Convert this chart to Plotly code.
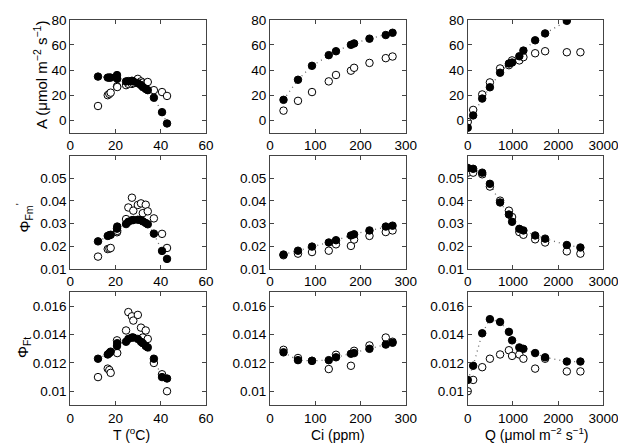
import plotly.graph_objects as go

# ---------------- data ----------------
T = [12.3, 16.6, 17.3, 17.9, 20.7, 20.8, 24.7, 25.7, 27.3, 27.9, 29.9, 31.3, 32.1, 33.4, 34.3, 37.0, 40.6, 42.8]
A_T_mod = [34.8, 34, 34, 34, 36, 33, 31, 31.2, 31.5, 31, 29.5, 28, 26.5, 25, 24, 18, 6.5, -2.5]
A_T_meas = [11.4, 20, 21, 22, 27, 26.5, 28, 29, 29, 29.7, 33, 31, 30, 29, 30.5, 24, 22.5, 19.4]
Fm_T_mod = [0.0222, 0.0246, 0.0249, 0.0251, 0.0278, 0.0287, 0.0298, 0.0308, 0.0315, 0.0316, 0.0317, 0.0315, 0.0310, 0.0303, 0.0297, 0.0256, 0.0180, 0.0145]
Fm_T_meas = [0.0155, 0.0188, 0.0190, 0.0193, 0.0262, 0.0268, 0.0320, 0.0371, 0.0414, 0.0357, 0.0382, 0.0389, 0.0346, 0.0383, 0.0354, 0.0323, 0.0255, 0.0193]
Ft_T_mod = [0.0123, 0.0126, 0.0127, 0.0128, 0.0132, 0.0134, 0.0135, 0.0137, 0.0138, 0.0138, 0.0137, 0.0135, 0.0134, 0.0132, 0.0131, 0.0123, 0.0110, 0.0109]
Ft_T_meas = [0.0110, 0.0116, 0.0115, 0.0113, 0.0136, 0.0127, 0.0143, 0.0156, 0.0153, 0.0150, 0.0154, 0.0145, 0.0138, 0.0143, 0.0137, 0.0120, 0.0112, 0.0100]

Ci = [30, 62, 93, 130, 146, 179, 186, 220, 256, 271]
A_Ci_mod = [16.3, 32.3, 43.4, 51.9, 55, 60.1, 61.2, 65, 67.9, 69.7]
A_Ci_meas = [7.7, 15.5, 22.5, 31, 36.1, 39.5, 41.8, 45.7, 49.5, 50.8]
Fm_Ci_mod = [0.0164, 0.0181, 0.0199, 0.0217, 0.0227, 0.0248, 0.0253, 0.0270, 0.0287, 0.0291]
Fm_Ci_meas = [0.0161, 0.0168, 0.0175, 0.0181, 0.0209, 0.0202, 0.0230, 0.0246, 0.0263, 0.0270]
Ft_Ci_mod = [0.01275, 0.0122, 0.01215, 0.0122, 0.0124, 0.01265, 0.0127, 0.0130, 0.0133, 0.01343]
Ft_Ci_meas = [0.01293, 0.01235, 0.01215, 0.01157, 0.01258, 0.0118, 0.01286, 0.01324, 0.0138, 0.0135]

Q = [0, 120, 320, 490, 715, 910, 980, 1140, 1230, 1490, 1710, 2190, 2490]
A_Q_mod = [-5.9, 3.9, 17.3, 26.3, 37.9, 45.2, 46.0, 51, 55.5, 63.7, 69.2, 79.2, 88]
A_Q_meas = [-1.3, 8.3, 20.6, 30.2, 41.3, 43.9, 47.7, 47.7, 50.3, 53.4, 55, 54.2, 54.2]
Fm_Q_mod = [0.0545, 0.0541, 0.0524, 0.0475, 0.0393, 0.0340, 0.0308, 0.0277, 0.0270, 0.0248, 0.0234, 0.0206, 0.0195]
Fm_Q_meas = [0.0524, 0.0524, 0.0517, 0.0463, 0.0401, 0.0357, 0.0329, 0.0263, 0.0251, 0.0231, 0.0217, 0.0178, 0.0168]
Ft_Q_mod = [0.0108, 0.0118, 0.0141, 0.0151, 0.0149, 0.0142, 0.0136, 0.0131, 0.0130, 0.0127, 0.0124, 0.0121, 0.0121]
Ft_Q_meas = [0.0100, 0.0108, 0.0117, 0.0123, 0.0126, 0.0129, 0.0125, 0.0126, 0.0123, 0.0116, 0.0123, 0.0114, 0.0114]

x_cols = [T, Ci, Q]
panels = [
    [(A_T_meas, A_T_mod), (A_Ci_meas, A_Ci_mod), (A_Q_meas, A_Q_mod)],
    [(Fm_T_meas, Fm_T_mod), (Fm_Ci_meas, Fm_Ci_mod), (Fm_Q_meas, Fm_Q_mod)],
    [(Ft_T_meas, Ft_T_mod), (Ft_Ci_meas, Ft_Ci_mod), (Ft_Q_meas, Ft_Q_mod)],
]

x_ranges = [[0, 60], [0, 300], [0, 3000]]
x_ticks = [[0, 20, 40, 60], [0, 100, 200, 300], [0, 1000, 2000, 3000]]
y_ranges = [[-10, 80], [0.01, 0.0597], [0.009, 0.017]]
y_ticks = [[0, 20, 40, 60, 80], [0.01, 0.02, 0.03, 0.04, 0.05], [0.01, 0.012, 0.014, 0.016]]
y_ticktext = [["0", "20", "40", "60", "80"], ["0.01", "0.02", "0.03", "0.04", "0.05"],
              ["0.01", "0.012", "0.014", "0.016"]]

x_titles = ["T (<sup>o</sup>C)", "Ci (ppm)", "Q (μmol m<sup>−2</sup> s<sup>−1</sup>)"]
y_titles = ["A (μmol m<sup>−2</sup> s<sup>−1</sup>)", "Φ<sub>Fm</sub><sup>'</sup>", "Φ<sub>Ft</sub>"]

W, H = 626, 444
col_px = [(60, 200), (266, 406), (470, 610)]
row_px = [(5, 122), (146, 263), (287, 404)]

FONT = "Liberation Sans, Arial, Helvetica, sans-serif"
fig = go.Figure()
layout = {}

for r in range(3):
    for c in range(3):
        k = r * 3 + c + 1
        xa = "x" if k == 1 else f"x{k}"
        ya = "y" if k == 1 else f"y{k}"
        meas, mod = panels[r][c]
        xs = x_cols[c]
        fig.add_trace(go.Scatter(x=xs, y=mod, mode="lines",
                                 line=dict(color="#6a6a6a", width=1.3, dash="1px,4px"),
                                 xaxis=xa, yaxis=ya, showlegend=False, hoverinfo="skip"))
        fig.add_trace(go.Scatter(x=xs, y=meas, mode="markers",
                                 marker=dict(symbol="circle", size=7.5, color="white",
                                             line=dict(color="black", width=1)),
                                 xaxis=xa, yaxis=ya, showlegend=False))
        fig.add_trace(go.Scatter(x=xs, y=mod, mode="markers",
                                 marker=dict(symbol="circle", size=7.5, color="black",
                                             line=dict(color="black", width=1)),
                                 xaxis=xa, yaxis=ya, showlegend=False))
        x0, x1 = col_px[c]
        y0, y1 = row_px[r]
        axcommon = dict(showgrid=False, zeroline=False, showline=True, linecolor="#444444",
                        linewidth=1, mirror="ticks", ticks="inside", ticklen=4,
                        tickcolor="#444444", ticklabeloverflow="allow",
                        tickfont=dict(family=FONT, size=13.5, color="black"))
        layout["xaxis" if k == 1 else f"xaxis{k}"] = dict(
            domain=[x0 / W, x1 / W], anchor=ya, range=x_ranges[c],
            tickvals=x_ticks[c], **axcommon)
        layout["yaxis" if k == 1 else f"yaxis{k}"] = dict(
            domain=[1 - y1 / H, 1 - y0 / H], anchor=xa, range=y_ranges[r],
            tickvals=y_ticks[r], ticktext=y_ticktext[r], **axcommon)

annotations = []
x_title_px = [123, 336, 541]
for c in range(3):
    annotations.append(dict(text=x_titles[c], x=x_title_px[c] / W, y=0.5 / H,
                            xref="paper", yref="paper", showarrow=False,
                            xanchor="center", yanchor="bottom", borderpad=0,
                            font=dict(family=FONT, size=14, color="black")))
y_title_px = [(30, 62), (13, 210), (12, 344)]
for r in range(3):
    px, py = y_title_px[r]
    annotations.append(dict(text=y_titles[r], x=px / W, y=1 - py / H,
                            xref="paper", yref="paper", showarrow=False, textangle=-90,
                            xanchor="center", yanchor="middle",
                            font=dict(family=FONT, size=15, color="black")))

fig.update_layout(**layout)
fig.update_layout(width=W, height=H, margin=dict(l=0, r=0, t=0, b=0),
                  paper_bgcolor="white", plot_bgcolor="white",
                  annotations=annotations, showlegend=False)

fig.write_html("out.html")
